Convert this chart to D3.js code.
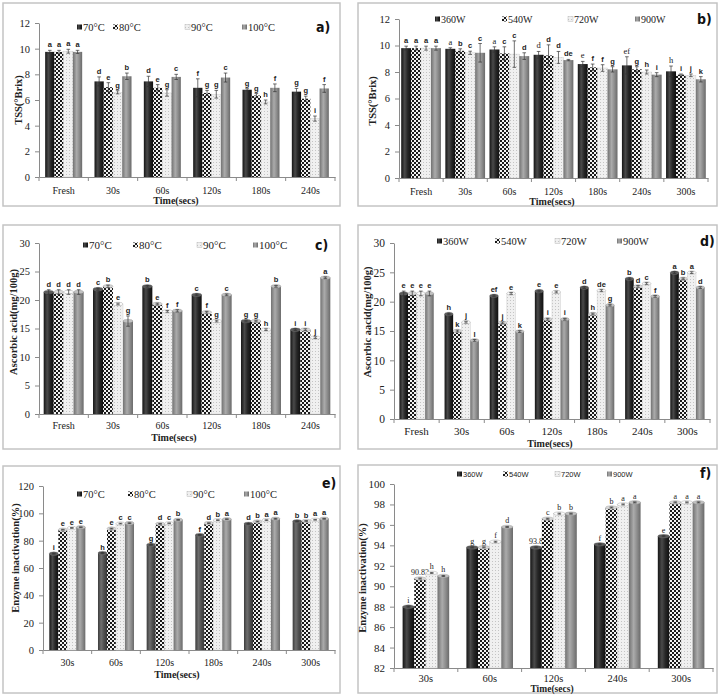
<!DOCTYPE html>
<html>
<head>
<meta charset="utf-8">
<script src="https://cdn.jsdelivr.net/npm/d3@7"></script>
<style>
  body { margin: 0; background: #fff; }
</style>
</head>
<body>
<script>
// series names
var seriesTemp = ["70°C", "80°C", "90°C", "100°C"];
var seriesPower = ["360W", "540W", "720W", "900W"];

// categories
var catsTssTemp = ["Fresh", "30s", "60s", "120s", "180s", "240s"];
var catsTssPower = ["Fresh", "30s", "60s", "120s", "180s", "240s", "300s"];
var catsAscTemp = ["Fresh", "30s", "60s", "120s", "180s", "240s"];
var catsAscPower = ["Fresh", "30s", "60s", "120s", "180s", "240s", "300s"];
var catsEnzTemp = ["30s", "60s", "120s", "180s", "240s", "300s"];
var catsEnzPower = ["30s", "60s", "120s", "240s", "300s"];

// tick labels
var ticksTss = [0, 2, 4, 6, 8, 10, 12];
var ticksAsc = [0, 5, 10, 15, 20, 25, 30];
var ticksEnzTemp = [0, 20, 40, 60, 80, 100, 120];
var ticksEnzPower = [82, 84, 86, 88, 90, 92, 94, 96, 98, 100];

// a) TSS, blanching temperature
var tssTempVals = [[9.75, 9.75, 9.8, 9.75], [7.45, 7.0, 6.6, 7.85], [7.45, 6.95, 6.55, 7.8],
                   [6.95, 6.55, 6.45, 7.75], [6.8, 6.35, 5.85, 6.95], [6.65, 6.1, 4.55, 6.9]];
var tssTempErr = [[0.12, 0.12, 0.15, 0.12], [0.35, 0.35, 0.12, 0.25], [0.4, 0.25, 0.25, 0.2],
                  [0.7, 0.2, 0.3, 0.35], [0.08, 0.15, 0.15, 0.3], [0.25, 0.2, 0.2, 0.3]];
var tssTempSig = [["a", "a", "a", "a"], ["d", "e", "g", "b"], ["d", "e", "g", "c"],
                  ["f", "g", "g", "c"], ["g", "g", "h", "f"], ["g", "g", "i", "f"]];

// b) TSS, microwave power
var tssPowerVals = [[9.8, 9.8, 9.8, 9.8], [9.75, 9.6, 9.45, 9.45], [9.7, 9.4, 9.35, 9.2],
                    [9.3, 9.25, 9.1, 8.9], [8.6, 8.35, 8.3, 8.2], [8.5, 8.2, 8.0, 7.8],
                    [8.05, 7.8, 7.75, 7.45]];
var tssPowerErr = [[0.15, 0.15, 0.15, 0.15], [0.08, 0.15, 0.12, 0.7], [0.2, 0.5, 1.0, 0.25],
                   [0.25, 0.8, 0.45, 0.05], [0.2, 0.25, 0.25, 0.2], [0.65, 0.2, 0.15, 0.15],
                   [0.4, 0.05, 0.1, 0.2]];
var tssPowerSig = [["a", "a", "a", "a"], ["a", "b", "c", "c"], ["a", "c", "c", "d"],
                   ["d", "d", "d", "de"], ["e", "f", "f", "g"], ["ef", "g", "h", "i"],
                   ["h", "i", "j", "k"]];

// c) ascorbic acid, temperature
var ascTempVals = [[21.4, 21.4, 21.4, 21.4], [21.9, 22.4, 19.3, 16.3], [22.4, 19.3, 18.0, 18.1],
                   [20.9, 17.85, 16.3, 20.9], [16.3, 16.3, 14.8, 22.4], [14.8, 14.8, 13.4, 23.9]];
var ascTempErr = [[0.4, 0.4, 0.4, 0.4], [0.2, 0.2, 0.15, 0.9], [0.15, 0.15, 0.15, 0.2],
                  [0.15, 0.15, 0.15, 0.15], [0.15, 0.15, 0.15, 0.15], [0.15, 0.15, 0.15, 0.15]];
var ascTempSig = [["d", "d", "d", "d"], ["c", "b", "e", "g"], ["b", "e", "f", "f"],
                  ["c", "f", "g", "c"], ["g", "g", "h", "b"], ["i", "i", "j", "a"]];

// d) ascorbic acid, power
var ascPowerVals = [[21.4, 21.4, 21.4, 21.4], [17.9, 15.0, 16.5, 13.4], [21.0, 16.4, 21.4, 14.9],
                    [21.8, 17.0, 21.65, 17.0], [22.4, 17.9, 21.9, 19.4], [23.9, 22.6, 23.1, 20.9],
                    [24.95, 23.9, 24.95, 22.4]];
var ascPowerErr = [[0.4, 0.4, 0.4, 0.4], [0.15, 0.15, 0.15, 0.15], [0.15, 0.15, 0.15, 0.15],
                   [0.15, 0.15, 0.15, 0.15], [0.15, 0.15, 0.15, 0.15], [0.15, 0.15, 0.15, 0.15],
                   [0.15, 0.15, 0.15, 0.15]];
var ascPowerSig = [["e", "e", "e", "e"], ["h", "k", "j", "l"], ["ef", "j", "e", "k"],
                   ["e", "i", "e", "i"], ["d", "h", "de", "g"], ["b", "d", "c", "f"],
                   ["a", "b", "a", "d"]];

// e) enzyme inactivation, temperature
var enzTempVals = [[70.5, 88, 89.3, 89.8], [71, 88.8, 92.5, 92.8], [77, 92.3, 92.7, 95.2],
                   [84.2, 92.8, 95, 95.7], [92.3, 94, 95, 96], [94.2, 94.4, 95.3, 96]];
var enzTempErr = [[0.3, 0.3, 0.3, 0.3], [0.3, 0.3, 0.3, 0.3], [0.3, 0.3, 0.3, 0.3],
                  [0.3, 0.3, 0.3, 0.3], [0.3, 0.3, 0.3, 0.3], [0.3, 0.3, 0.3, 0.3]];
var enzTempSig = [["i", "e", "e", "e"], ["h", "e", "c", "c"], ["g", "d", "c", "b"],
                  ["f", "d", "b", "a"], ["d", "b", "a", "a"], ["b", "b", "a", "a"]];

// f) enzyme inactivation, power
var enzPowerVals = [[88.0, 90.75, 91.3, 91.0], [93.8, 93.8, 94.35, 95.8], [93.8, 96.6, 97.1, 97.1],
                    [94.1, 97.7, 98.0, 98.2], [94.9, 98.2, 98.2, 98.2]];
var enzPowerErr = [[0.05, 0.05, 0.05, 0.05], [0.05, 0.05, 0.05, 0.05], [0.05, 0.05, 0.05, 0.05],
                   [0.05, 0.05, 0.05, 0.05], [0.05, 0.05, 0.05, 0.05]];
var enzPowerSig = [["i", "90.83", "h", "h"], ["g", "g", "f", "d"], ["93.8", "c", "b", "b"],
                   ["f", "b", "a", "a"], ["e", "a", "a", "a"]];

var serif = "'Liberation Serif', 'Times New Roman', serif";
var sans = "'Liberation Sans', Arial, sans-serif";
var narrow = "'Liberation Sans Narrow', 'DejaVu Sans Condensed', sans-serif";

var svg = d3.select("body").append("svg").attr("width", 719).attr("height", 695);
var defs = svg.append("defs");

function gradient(id, stops) {
    var lg = defs.append("linearGradient").attr("id", id)
        .attr("x1", "0%").attr("x2", "100%").attr("y1", "0%").attr("y2", "0%");
    stops.forEach(function (s) {
        lg.append("stop").attr("offset", s[0]).attr("stop-color", s[1]);
    });
}
gradient("gDark", [["0%", "#151515"], ["35%", "#4a4a4a"], ["65%", "#262626"], ["100%", "#101010"]]);
gradient("gMid", [["0%", "#3c3c3c"], ["35%", "#6e6e6e"], ["65%", "#505050"], ["100%", "#383838"]]);
gradient("gGrey", [["0%", "#727272"], ["40%", "#ababab"], ["70%", "#8c8c8c"], ["100%", "#6a6a6a"]]);

var chk = defs.append("pattern").attr("id", "checker").attr("patternUnits", "userSpaceOnUse")
    .attr("width", 4).attr("height", 4);
chk.append("rect").attr("width", 4).attr("height", 4).attr("fill", "#f2f2f2");
chk.append("rect").attr("width", 2).attr("height", 2).attr("fill", "#1a1a1a");
chk.append("rect").attr("x", 2).attr("y", 2).attr("width", 2).attr("height", 2).attr("fill", "#1a1a1a");

var dots = defs.append("pattern").attr("id", "dots").attr("patternUnits", "userSpaceOnUse")
    .attr("width", 3).attr("height", 3);
dots.append("rect").attr("width", 3).attr("height", 3).attr("fill", "#f0f0f0");
dots.append("rect").attr("width", 1).attr("height", 1).attr("fill", "#c4c4c4");

var fills = ["url(#gDark)", "url(#checker)", "url(#dots)", "url(#gGrey)"];
var capFills = ["#5a5a5a", "#d8d8d8", "#fbfbfb", "#c2c2c2"];

var panels = [
    { cats: catsTssTemp, series: seriesTemp, vals: tssTempVals, err: tssTempErr, sig: tssTempSig,
      ticks: ticksTss, yLabel: "TSS(°Brix)", frame: [3, 3, 337, 203],
      x0: 39, x1: 335, yTop: 23, yBottom: 177, pad: 0.25, catY: 190, titleX: 176, titleY: 200,
      yLabelX: 18, yLabelY: 100, legendY: 27, legendX: [77, 113, 185, 242], lfs: 10.5, lfont: serif,
      tag: "a)", tagX: 316, tagY: 27, cyl: false, fs: 10 },
    { cats: catsTssPower, series: seriesPower, vals: tssPowerVals, err: tssPowerErr, sig: tssPowerSig,
      ticks: ticksTss, yLabel: "TSS(°Brix)", frame: [358, 3, 359, 203],
      x0: 399, x1: 708, yTop: 19, yBottom: 178, pad: 0.1, catY: 191, titleX: 552, titleY: 201,
      yLabelX: 372, yLabelY: 101, legendY: 19, legendX: [435, 502, 568, 635], lfs: 10, lfont: serif,
      tag: "b)", tagX: 697, tagY: 19, cyl: false, fs: 10,
      serifSig: function (ci, si) { return si === 0 && ci > 0; } },
    { cats: catsAscTemp, series: seriesTemp, vals: ascTempVals, err: ascTempErr, sig: ascTempSig,
      ticks: ticksAsc, yLabel: "Ascorbic acid(mg/100g)", frame: [3, 225, 337, 224],
      x0: 39, x1: 335, yTop: 243, yBottom: 414, pad: 0.19, catY: 425, titleX: 174, titleY: 437,
      yLabelX: 13, yLabelY: 322, legendY: 245, legendX: [83, 133, 197, 253], lfs: 11, lfont: serif,
      tag: "c)", tagX: 315, tagY: 245, cyl: true, fs: 10 },
    { cats: catsAscPower, series: seriesPower, vals: ascPowerVals, err: ascPowerErr, sig: ascPowerSig,
      ticks: ticksAsc, yLabel: "Ascorbic aacid(mg/100g)", frame: [358, 225, 359, 224],
      x0: 394, x1: 710, yTop: 243, yBottom: 419, pad: 0.24, catY: 431, titleX: 550, titleY: 443,
      yLabelX: 367, yLabelY: 322, legendY: 241, legendX: [437, 495, 555, 617], lfs: 10.5, lfont: serif,
      tag: "d)", tagX: 700, tagY: 241, cyl: true, fs: 11 },
    { cats: catsEnzTemp, series: seriesTemp, vals: enzTempVals, err: enzTempErr, sig: enzTempSig,
      ticks: ticksEnzTemp, yLabel: "Enzyme inactivation(%)", frame: [3, 466, 337, 227],
      x0: 43, x1: 335, yTop: 486, yBottom: 650, pad: 0.26, catY: 662, titleX: 177, titleY: 674,
      yLabelX: 15, yLabelY: 558, legendY: 494, legendX: [77, 128, 187, 244], lfs: 10.5, lfont: serif,
      tag: "e)", tagX: 322, tagY: 483, cyl: true, fs: 10,
      // the 70°C bars after 30s are a lighter dark grey in the original
      barFill: function (ci, si) { return si === 0 && ci > 0 ? "url(#gMid)" : fills[si]; } },
    { cats: catsEnzPower, series: seriesPower, vals: enzPowerVals, err: enzPowerErr, sig: enzPowerSig,
      ticks: ticksEnzPower, yLabel: "Enzyme inactivation(%)", frame: [358, 465, 359, 228],
      x0: 394, x1: 713, yTop: 484, yBottom: 668, pad: 0.27, catY: 678, titleX: 552, titleY: 689,
      yLabelX: 362, yLabelY: 578, legendY: 474, legendX: [457, 503, 555, 607], lfs: 7.5, lfont: sans,
      tag: "f)", tagX: 700, tagY: 473, cyl: true, fs: 10.5, titleFs: 9.5, sigFs: 8,
      serifSig: function () { return true; } }
];

panels.forEach(drawPanel);

function drawPanel(p) {
    var g = svg.append("g");

    g.append("rect")
        .attr("x", p.frame[0]).attr("y", p.frame[1])
        .attr("width", p.frame[2]).attr("height", p.frame[3])
        .attr("fill", "#fff").attr("stroke", "#c4c4c4").attr("stroke-width", 1.5);

    var x = d3.scaleBand().domain(p.cats).range([p.x0, p.x1])
        .paddingInner(p.pad).paddingOuter(p.pad / 2);
    var xs = d3.scaleBand().domain(p.series).range([0, x.bandwidth()]);
    var y = d3.scaleLinear().domain([p.ticks[0], p.ticks[p.ticks.length - 1]])
        .range([p.yBottom, p.yTop]);

    // y axis
    var ya = g.append("g").attr("transform", "translate(" + p.x0 + ",0)")
        .call(d3.axisLeft(y).tickValues(p.ticks).tickSize(4).tickSizeOuter(0).tickPadding(5));
    ya.select(".domain").attr("stroke", "#8a8a8a");
    ya.selectAll(".tick line").attr("stroke", "#8a8a8a");
    ya.selectAll("text").attr("font-family", serif).attr("font-size", p.fs + 0.5).attr("fill", "#222");

    // x axis, labels centred under groups
    var pad = p.catY - p.yBottom - 0.36 * p.fs;
    var xa = g.append("g").attr("transform", "translate(0," + p.yBottom + ")")
        .call(d3.axisBottom(x).tickSize(0).tickPadding(pad).tickSizeOuter(0));
    xa.select(".domain").attr("stroke", "#8a8a8a");
    xa.selectAll("text").attr("font-family", serif).attr("font-size", p.fs).attr("fill", "#222");

    // tick marks on group boundaries
    var bounds = p.cats.map(function (c) { return x(c) - x.step() * p.pad / 2; });
    bounds.push(p.x1);
    g.selectAll(".bound").data(bounds).enter().append("line")
        .attr("x1", function (d) { return d; }).attr("x2", function (d) { return d; })
        .attr("y1", p.yBottom).attr("y2", p.yBottom + 4)
        .attr("stroke", "#8a8a8a");

    // bars
    var rows = [];
    p.cats.forEach(function (c, ci) {
        p.series.forEach(function (s, si) {
            rows.push({ c: c, s: s, ci: ci, si: si, v: p.vals[ci][si], e: p.err[ci][si], sig: p.sig[ci][si] });
        });
    });
    var bw = xs.bandwidth();
    var bars = g.append("g").selectAll("g").data(rows).enter().append("g");

    bars.append("rect")
        .attr("x", function (d) { return x(d.c) + xs(d.s); })
        .attr("y", function (d) { return y(d.v); })
        .attr("width", bw)
        .attr("height", function (d) { return p.yBottom - y(d.v); })
        .attr("fill", function (d) { return p.barFill ? p.barFill(d.ci, d.si) : fills[d.si]; })
        .attr("stroke", function (d) { return d.si === 2 ? "#d0d0d0" : "none"; })
        .attr("stroke-width", 0.5);

    if (p.cyl) {
        bars.append("ellipse")
            .attr("cx", function (d) { return x(d.c) + xs(d.s) + bw / 2; })
            .attr("cy", function (d) { return y(d.v); })
            .attr("rx", bw / 2).attr("ry", 1.8)
            .attr("fill", function (d) { return capFills[d.si]; })
            .attr("stroke", "#777").attr("stroke-width", 0.3);
    }

    // error bars
    bars.append("path")
        .attr("d", function (d) {
            var cx = x(d.c) + xs(d.s) + bw / 2;
            var t = y(d.v + d.e), b = y(d.v - d.e);
            return "M" + cx + "," + t + "V" + b +
                "M" + (cx - 1.8) + "," + t + "H" + (cx + 1.8) +
                "M" + (cx - 1.8) + "," + b + "H" + (cx + 1.8);
        })
        .attr("stroke", "#333").attr("stroke-width", 0.7).attr("fill", "none");

    // significance letters
    var isSerif = function (d) { return p.serifSig && p.serifSig(d.ci, d.si); };
    bars.append("text")
        .attr("x", function (d) { return x(d.c) + xs(d.s) + bw / 2; })
        .attr("y", function (d) { return y(d.v + d.e) - 3; })
        .attr("text-anchor", "middle")
        .attr("fill", "#222")
        .attr("font-size", function (d) { return isSerif(d) ? (p.sigFs || 8.5) : 7.5; })
        .attr("font-family", function (d) { return isSerif(d) ? serif : sans; })
        .attr("font-weight", function (d) { return isSerif(d) ? "normal" : "bold"; })
        .text(function (d) { return d.sig; });

    // legend
    var lg = g.append("g").selectAll("g").data(p.series).enter().append("g")
        .attr("transform", function (d, i) { return "translate(" + p.legendX[i] + "," + p.legendY + ")"; });
    lg.append("rect").attr("x", 0).attr("y", -2.5).attr("width", 5).attr("height", 5)
        .attr("fill", function (d, i) { return fills[i]; })
        .attr("stroke", function (d, i) { return i === 2 ? "#bbb" : "none"; }).attr("stroke-width", 0.5);
    lg.append("text").attr("x", 6).attr("y", 0).attr("dominant-baseline", "central")
        .attr("font-family", p.lfont).attr("font-size", p.lfs).attr("fill", "#222")
        .text(function (d) { return d; });

    // panel tag
    g.append("text").attr("x", p.tagX).attr("y", p.tagY).attr("dominant-baseline", "central")
        .attr("font-family", narrow).attr("font-weight", "bold").attr("font-size", 14)
        .attr("fill", "#111")
        .text(p.tag);

    // axis titles
    g.append("text").attr("x", p.titleX).attr("y", p.titleY)
        .attr("text-anchor", "middle").attr("dominant-baseline", "central")
        .attr("font-family", serif).attr("font-weight", "bold").attr("font-size", p.titleFs || 10)
        .attr("fill", "#222")
        .text("Time(secs)");
    g.append("text")
        .attr("transform", "translate(" + p.yLabelX + "," + p.yLabelY + ") rotate(-90)")
        .attr("text-anchor", "middle").attr("dominant-baseline", "central")
        .attr("font-family", serif).attr("font-weight", "bold").attr("font-size", 10.5)
        .attr("fill", "#222")
        .text(p.yLabel);
}
</script>
</body>
</html>
